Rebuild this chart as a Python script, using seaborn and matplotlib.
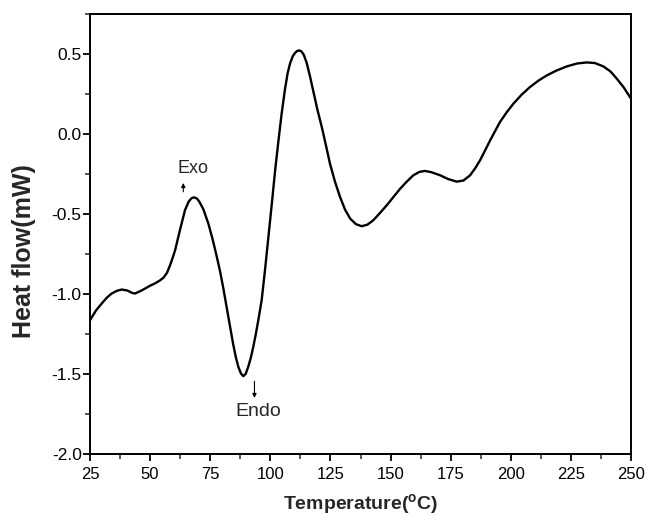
import matplotlib
matplotlib.use("Agg")
import matplotlib.pyplot as plt
import seaborn as sns
import pandas as pd
from matplotlib.ticker import MultipleLocator

temperature = [25.0, 27.5, 29.9, 32.0, 34.0, 36.2, 38.2, 40.5, 42.5, 43.7, 45.8,
               47.9, 50.0, 52.0, 54.0, 55.5, 57.0, 58.3, 59.5, 60.4, 62.4, 64.5,
               66.0, 67.2, 68.3, 69.5, 70.5, 72.1, 74.2, 76.0, 77.6, 79.1, 80.5,
               81.9, 83.3, 84.6, 85.7, 86.7, 87.8, 88.8, 89.8, 90.8, 91.9, 92.9,
               94.0, 95.0, 96.4, 97.8, 99.2, 100.6, 102.0, 103.4, 104.7, 106.1,
               107.2, 108.2, 109.3, 110.3, 111.2, 112.1, 113.0, 113.9, 115.1,
               116.5, 117.9, 119.6, 121.4, 123.1, 124.8, 126.9, 129.0, 131.1,
               133.2, 135.6, 138.0, 140.4, 142.8, 145.6, 148.4, 151.2, 154.0,
               156.8, 159.5, 162.0, 164.3, 167.0, 170.6, 174.0, 177.5, 180.3,
               183.1, 185.2, 187.2, 189.3, 191.4, 193.5, 195.5, 198.3, 201.1,
               204.5, 208.0, 211.5, 215.0, 219.0, 223.3, 227.5, 231.6, 235.0,
               238.5, 241.5, 244.1, 247.0, 250.0]
heat_flow = [-1.166, -1.105, -1.061, -1.025, -0.999, -0.982, -0.974, -0.980,
             -0.995, -0.999, -0.985, -0.968, -0.950, -0.936, -0.918, -0.901,
             -0.870, -0.822, -0.770, -0.728, -0.603, -0.478, -0.425, -0.403,
             -0.397, -0.405, -0.425, -0.470, -0.560, -0.660, -0.760, -0.860,
             -0.970, -1.090, -1.210, -1.320, -1.400, -1.458, -1.500, -1.516,
             -1.500, -1.458, -1.400, -1.333, -1.250, -1.166, -1.040, -0.850,
             -0.645, -0.440, -0.228, -0.040, 0.126, 0.280, 0.380, 0.440, 0.485,
             0.507, 0.519, 0.522, 0.515, 0.495, 0.445, 0.360, 0.265, 0.150,
             0.043, -0.070, -0.186, -0.300, -0.395, -0.475, -0.530, -0.565,
             -0.578, -0.568, -0.541, -0.495, -0.447, -0.395, -0.343, -0.298,
             -0.259, -0.238, -0.232, -0.240, -0.259, -0.283, -0.299, -0.292,
             -0.259, -0.215, -0.166, -0.104, -0.041, 0.018, 0.074, 0.135, 0.189,
             0.245, 0.293, 0.333, 0.366, 0.396, 0.422, 0.440, 0.447, 0.443,
             0.422, 0.390, 0.345, 0.290, 0.220]

x_ticks = [25, 50, 75, 100, 125, 150, 175, 200, 225, 250]
y_ticks = [-2.0, -1.5, -1.0, -0.5, 0.0, 0.5]

df = pd.DataFrame({"Temperature": temperature, "Heat flow": heat_flow})

sns.set_theme(style="ticks")
plt.rcParams["font.family"] = ["Liberation Sans", "DejaVu Sans"]
plt.rcParams["mathtext.fontset"] = "custom"
plt.rcParams["mathtext.bf"] = "Liberation Sans:bold"

fig = plt.figure(figsize=(6.46, 5.16), dpi=100)
ax = fig.add_axes([0.1393, 0.1211, 0.8375, 0.8518])

sns.lineplot(data=df, x="Temperature", y="Heat flow", ax=ax, color="black",
             linewidth=1.7, sort=False)

ax.set_xlim(25, 250)
ax.set_ylim(-2.0, 0.75)
ax.set_xticks(x_ticks)
ax.set_xticklabels([str(t) for t in x_ticks])
ax.set_yticks(y_ticks)
ax.set_yticklabels([f"{t:.1f}" for t in y_ticks])
ax.xaxis.set_minor_locator(MultipleLocator(12.5))
ax.yaxis.set_minor_locator(MultipleLocator(0.25))
ax.tick_params(axis="both", which="major", direction="out", length=5, width=1.3,
               colors="black")
ax.tick_params(axis="x", which="major", labelsize=12, pad=5)
ax.tick_params(axis="y", which="major", labelsize=12.5, pad=1)
ax.tick_params(axis="both", which="minor", direction="out", length=3.5, width=1.1)
for s in ax.spines.values():
    s.set_linewidth(1.4)
    s.set_color("black")
    s.set_visible(True)

ax.set_xlabel("Temperature($\\mathbf{^{o}}$C)", fontsize=14, fontweight="bold")
ax.set_ylabel("Heat flow(mW)", fontsize=18, fontweight="bold")
ax.xaxis.set_label_coords(0.5, -0.088)
ax.yaxis.set_label_coords(-0.10, 0.461)

ax.text(67.8, -0.216, "Exo", ha="center", va="center", fontsize=13)
ax.annotate("", xy=(63.8, -0.29), xytext=(63.8, -0.38),
            arrowprops=dict(arrowstyle="-|>", color="black", lw=0.8,
                            mutation_scale=6))
ax.text(94.9, -1.74, "Endo", ha="center", va="center", fontsize=14)
ax.annotate("", xy=(93.4, -1.67), xytext=(93.4, -1.53),
            arrowprops=dict(arrowstyle="-|>", color="black", lw=0.8,
                            mutation_scale=6))

fig.savefig("out.png", dpi=100)
